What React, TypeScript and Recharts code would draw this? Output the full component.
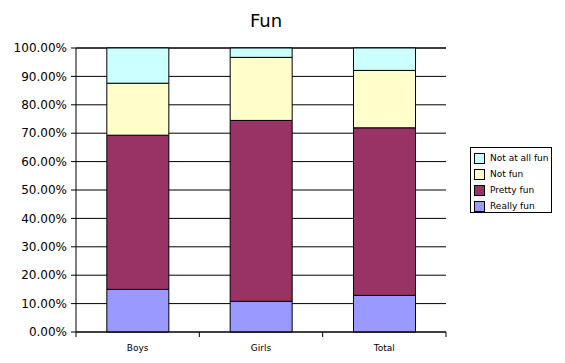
import { Bar, BarChart, CartesianGrid, XAxis, YAxis } from 'recharts';

const categories = ['Boys', 'Girls', 'Total'];
const reallyFun = [15.0, 10.8, 12.9];
const prettyFun = [54.3, 63.7, 59.0];
const notFun = [18.3, 22.2, 20.2];
const notAtAllFun = [12.4, 3.3, 7.9];
const yTicks = [0, 10, 20, 30, 40, 50, 60, 70, 80, 90, 100];

const series = [
  { key: 'reallyFun', name: 'Really fun', color: '#9999ff', values: reallyFun },
  { key: 'prettyFun', name: 'Pretty fun', color: '#993366', values: prettyFun },
  { key: 'notFun', name: 'Not fun', color: '#ffffcc', values: notFun },
  { key: 'notAtAllFun', name: 'Not at all fun', color: '#ccffff', values: notAtAllFun },
];

const chartData = categories.map((name, i) => {
  const row: Record<string, string | number> = { name };
  series.forEach((s) => {
    row[s.key] = s.values[i];
  });
  return row;
});

const FONT = '"DejaVu Sans", Verdana, sans-serif';

function CategoryTick(props: any) {
  const { x, y, payload, index, visibleTicksCount } = props;
  const half = payload?.offset ?? 0;
  const axisY = y - 7;
  const last = index === (visibleTicksCount ?? categories.length) - 1;
  return (
    <g>
      <line x1={x - half} x2={x - half} y1={axisY} y2={axisY + 5} stroke="#000" />
      {last && <line x1={x + half} x2={x + half} y1={axisY} y2={axisY + 5} stroke="#000" />}
      <text x={x} y={axisY + 19} textAnchor="middle" fontSize={9} fill="#000" fontFamily={FONT}>
        {payload.value}
      </text>
    </g>
  );
}

function Legend() {
  return (
    <div
      style={{
        position: 'absolute',
        left: 470,
        top: 147,
        width: 82,
        height: 66,
        border: '1px solid #000',
        background: '#fff',
        fontFamily: FONT,
        fontSize: 9,
        paddingTop: 2,
        boxSizing: 'border-box',
      }}
    >
      {[...series].reverse().map((s) => (
        <div key={s.key} style={{ display: 'flex', alignItems: 'center', height: 16, paddingLeft: 3 }}>
          <span
            style={{
              display: 'inline-block',
              width: 9,
              height: 9,
              background: s.color,
              border: '1px solid #000',
              marginRight: 5,
            }}
          />
          <span>{s.name}</span>
        </div>
      ))}
    </div>
  );
}

export default function App() {
  return (
    <div
      style={{
        position: 'absolute',
        left: 0,
        top: 0,
        width: 565,
        height: 363,
        background: '#fff',
        fontFamily: FONT,
      }}
    >
      <div
        style={{
          position: 'absolute',
          left: 0,
          top: 10,
          width: 532,
          textAlign: 'center',
          fontSize: 18,
          color: '#000',
        }}
      >
        Fun
      </div>
      <BarChart
        width={565}
        height={363}
        data={chartData}
        margin={{ top: 48, right: 119, bottom: 0, left: 0 }}
        barCategoryGap="25%"
      >
        <CartesianGrid vertical={false} stroke="#000" strokeDasharray="" />
        <XAxis
          dataKey="name"
          height={31}
          axisLine={{ stroke: '#000' }}
          tickLine={false}
          tickSize={5}
          tickMargin={2}
          interval={0}
          tick={<CategoryTick />}
        />
        <YAxis
          width={76}
          domain={[0, 100]}
          ticks={yTicks}
          interval={0}
          axisLine={{ stroke: '#000' }}
          tickLine={{ stroke: '#000' }}
          tickSize={5}
          tickMargin={4}
          tick={{ fill: '#000', fontSize: 12, fontFamily: FONT }}
          tickFormatter={(v: number) => `${v.toFixed(2)}%`}
        />
        {series.map((s) => (
          <Bar
            key={s.key}
            dataKey={s.key}
            name={s.name}
            stackId="fun"
            fill={s.color}
            stroke="#000"
            strokeWidth={1}
            isAnimationActive={false}
          />
        ))}
      </BarChart>
      <Legend />
    </div>
  );
}
